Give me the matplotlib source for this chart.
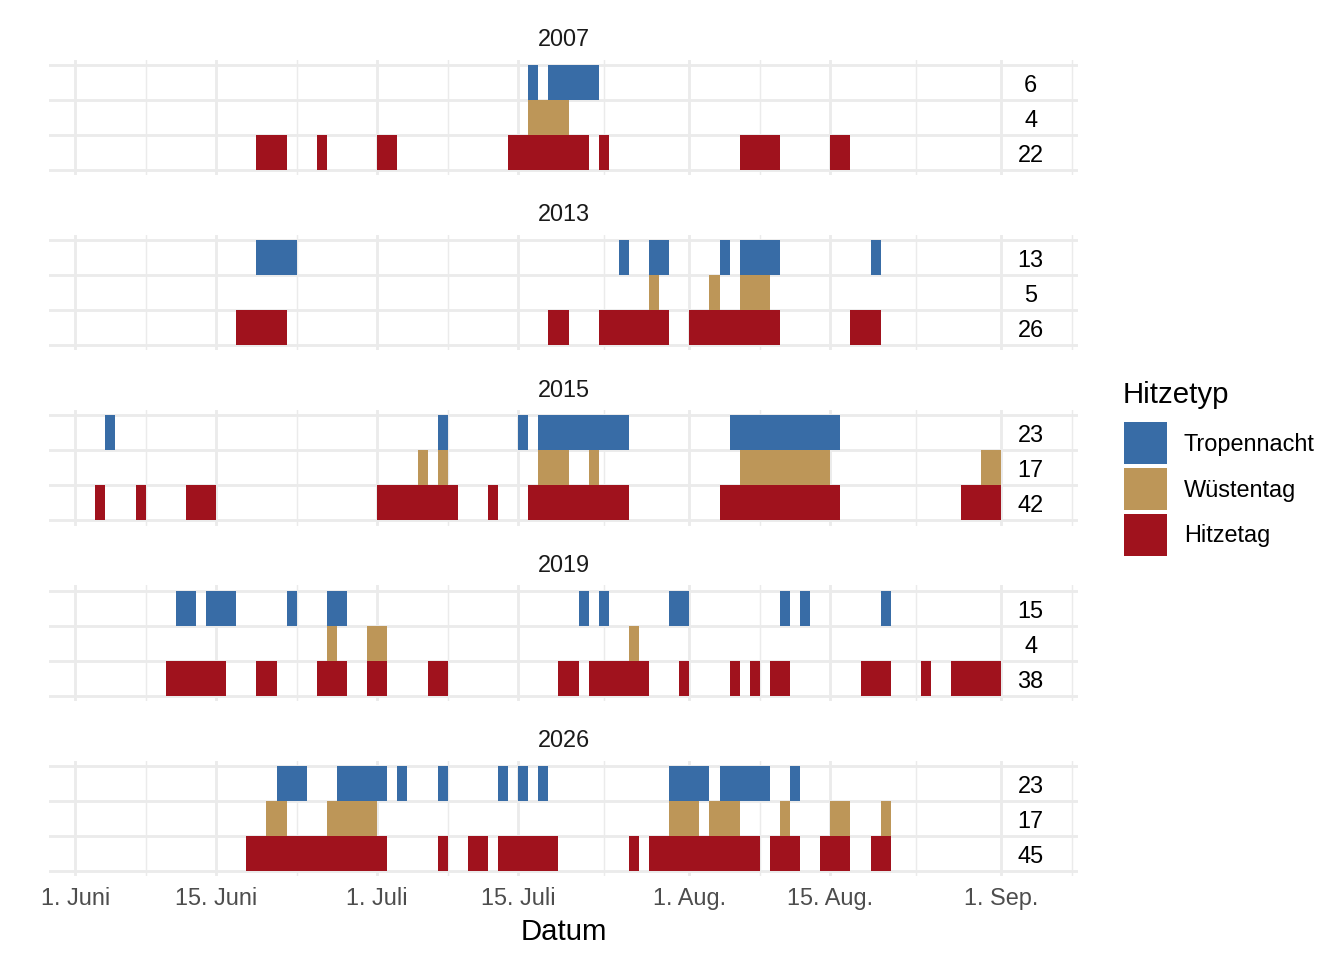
import numpy as np
import pandas as pd
from matplotlib import pyplot as plt
from matplotlib.patches import Patch

plt.rcParams['font.family'] = ['Liberation Sans', 'DejaVu Sans']

# facets, heat types (top to bottom) and colours
years = ["2007", "2013", "2015", "2019", "2026"]
types = ["Tropennacht", "Wüstentag", "Hitzetag"]
colors = ["#386CA6", "#BD9658", "#A0121D"]

# days per year and type (MM-DD)
tropen_2007 = ["07-16", "07-18", "07-19", "07-20", "07-21", "07-22"]
wueste_2007 = ["07-16", "07-17", "07-18", "07-19"]
hitze_2007 = ["06-19", "06-20", "06-21", "06-25", "07-01", "07-02",
              "07-14", "07-15", "07-16", "07-17", "07-18", "07-19", "07-20", "07-21",
              "07-23", "08-06", "08-07", "08-08", "08-09", "08-15", "08-16"]

tropen_2013 = ["06-19", "06-20", "06-21", "06-22", "07-25", "07-28", "07-29",
               "08-04", "08-06", "08-07", "08-08", "08-09", "08-19"]
wueste_2013 = ["07-28", "08-03", "08-06", "08-07", "08-08"]
hitze_2013 = ["06-17", "06-18", "06-19", "06-20", "06-21", "07-18", "07-19",
              "07-23", "07-24", "07-25", "07-26", "07-27", "07-28", "07-29",
              "08-01", "08-02", "08-03", "08-04", "08-05", "08-06", "08-07", "08-08", "08-09",
              "08-17", "08-18", "08-19"]

tropen_2015 = ["06-04", "07-07", "07-15",
               "07-17", "07-18", "07-19", "07-20", "07-21", "07-22", "07-23", "07-24", "07-25",
               "08-05", "08-06", "08-07", "08-08", "08-09", "08-10", "08-11", "08-12",
               "08-13", "08-14", "08-15"]
wueste_2015 = ["07-05", "07-07", "07-17", "07-18", "07-19", "07-22",
               "08-06", "08-07", "08-08", "08-09", "08-10", "08-11", "08-12", "08-13", "08-14",
               "08-30", "08-31"]
hitze_2015 = ["06-03", "06-07", "06-12", "06-13", "06-14",
              "07-01", "07-02", "07-03", "07-04", "07-05", "07-06", "07-07", "07-08", "07-12",
              "07-16", "07-17", "07-18", "07-19", "07-20", "07-21", "07-22", "07-23", "07-24", "07-25",
              "08-04", "08-05", "08-06", "08-07", "08-08", "08-09", "08-10", "08-11",
              "08-12", "08-13", "08-14", "08-15", "08-28", "08-29", "08-30", "08-31"]

tropen_2019 = ["06-11", "06-12", "06-14", "06-15", "06-16", "06-22", "06-26", "06-27",
               "07-21", "07-23", "07-30", "07-31", "08-10", "08-12", "08-20"]
wueste_2019 = ["06-26", "06-30", "07-01", "07-26"]
hitze_2019 = ["06-10", "06-11", "06-12", "06-13", "06-14", "06-15", "06-19", "06-20",
              "06-25", "06-26", "06-27", "06-30", "07-01", "07-06", "07-07", "07-19", "07-20",
              "07-22", "07-23", "07-24", "07-25", "07-26", "07-27", "07-31", "08-05", "08-07",
              "08-09", "08-10", "08-18", "08-19", "08-20", "08-24",
              "08-27", "08-28", "08-29", "08-30", "08-31"]

tropen_2026 = ["06-21", "06-22", "06-23", "06-27", "06-28", "06-29", "06-30", "07-01",
               "07-03", "07-07", "07-13", "07-15", "07-17", "07-30", "07-31", "08-01", "08-02",
               "08-04", "08-05", "08-06", "08-07", "08-08", "08-11"]
wueste_2026 = ["06-20", "06-21", "06-26", "06-27", "06-28", "06-29", "06-30",
               "07-30", "07-31", "08-01", "08-03", "08-04", "08-05", "08-10", "08-15", "08-16", "08-20"]
hitze_2026 = ["06-18", "06-19", "06-20", "06-21", "06-22", "06-23", "06-24", "06-25",
              "06-26", "06-27", "06-28", "06-29", "06-30", "07-01", "07-07", "07-10", "07-11",
              "07-13", "07-14", "07-15", "07-16", "07-17", "07-18", "07-26",
              "07-28", "07-29", "07-30", "07-31", "08-01", "08-02", "08-03", "08-04", "08-05",
              "08-06", "08-07", "08-09", "08-10", "08-11", "08-14", "08-15", "08-16", "08-19", "08-20"]

# counts printed at the right of each row (Tropennacht, Wüstentag, Hitzetag)
counts_2007 = [6, 4, 22]
counts_2013 = [13, 5, 26]
counts_2015 = [23, 17, 42]
counts_2019 = [15, 4, 38]
counts_2026 = [23, 17, 45]

tick_dates = ["06-01", "06-15", "07-01", "07-15", "08-01", "08-15", "09-01", "09-15"]
tick_labels = ["1. Juni", "15. Juni", "1. Juli", "15. Juli", "1. Aug.", "15. Aug.", "1. Sep.", "15. Sep."]

days = {
    "2007": [tropen_2007, wueste_2007, hitze_2007],
    "2013": [tropen_2013, wueste_2013, hitze_2013],
    "2015": [tropen_2015, wueste_2015, hitze_2015],
    "2019": [tropen_2019, wueste_2019, hitze_2019],
    "2026": [tropen_2026, wueste_2026, hitze_2026],
}
counts = {"2007": counts_2007, "2013": counts_2013, "2015": counts_2015,
          "2019": counts_2019, "2026": counts_2026}


def offs(mmdd):
    # days since 1 June
    d = pd.to_datetime(["2000-" + s for s in mmdd])
    return np.asarray((d - pd.Timestamp("2000-06-01")).days, dtype=float)


major = offs(tick_dates)
minor = (major[:-1] + major[1:]) / 2
label_x = 94.9

fig = plt.figure(figsize=(7, 5), dpi=192)
W, H = 1344, 960
left_px, right_px = 49, 1078
panel_h = 115.4
step = 175.2
top0 = 59.8

for i, yr in enumerate(years):
    top = top0 + i * step
    ax = fig.add_axes([left_px / W, 1 - (top + panel_h) / H, (right_px - left_px) / W, panel_h / H])
    for j, (t, c) in enumerate(zip(types, colors)):
        row = 3 - j
        x = offs(days[yr][j])
        ax.bar(x, 1, width=1, bottom=row - 0.5, align='edge', color=c,
               linewidth=0, antialiased=False, zorder=2)
        ax.text(label_x, row - 0.27, str(counts[yr][j]), ha='center', va='baseline',
                fontsize=8.8, color='black', zorder=3)

    ax.set_xticks(major)
    ax.set_xticks(minor, minor=True)
    ax.set_yticks([0.5, 1.5, 2.5, 3.5])
    ax.set_xlim(-2.6, 99.6)
    ax.set_ylim(0.35, 3.65)
    ax.set_axisbelow(True)
    ax.grid(True, which='major', color='#EBEBEB', linewidth=1.07)
    ax.grid(True, which='minor', axis='x', color='#EBEBEB', linewidth=0.53)
    ax.tick_params(which='both', length=0)
    ax.set_yticklabels([])
    for s in ax.spines.values():
        s.set_visible(False)
    if i == len(years) - 1:
        ax.set_xticklabels(tick_labels, fontsize=8.8, color='#4D4D4D')
        ax.tick_params(axis='x', pad=4.3)
    else:
        ax.set_xticklabels([])
    ax.set_title(yr, fontsize=8.8, color='#1A1A1A', pad=5.1)

fig.text(563.5 / W, 1 - 940.5 / H, "Datum", fontsize=11, ha='center', va='baseline')

# legend
fig.text(1123 / W, 1 - 402.7 / H, "Hitzetyp", fontsize=11, ha='left', va='baseline')
handles = [Patch(facecolor=c, edgecolor='none', linewidth=0, label=t) for t, c in zip(types, colors)]
fig.legend(handles=handles, loc='upper left', bbox_to_anchor=(1124 / W, 1 - 422.3 / H),
           frameon=False, fontsize=8.8, handlelength=1.83, handleheight=2.376,
           handletextpad=0.72, labelspacing=0.17, borderpad=0, borderaxespad=0)

fig.savefig("out.png", dpi=192)
